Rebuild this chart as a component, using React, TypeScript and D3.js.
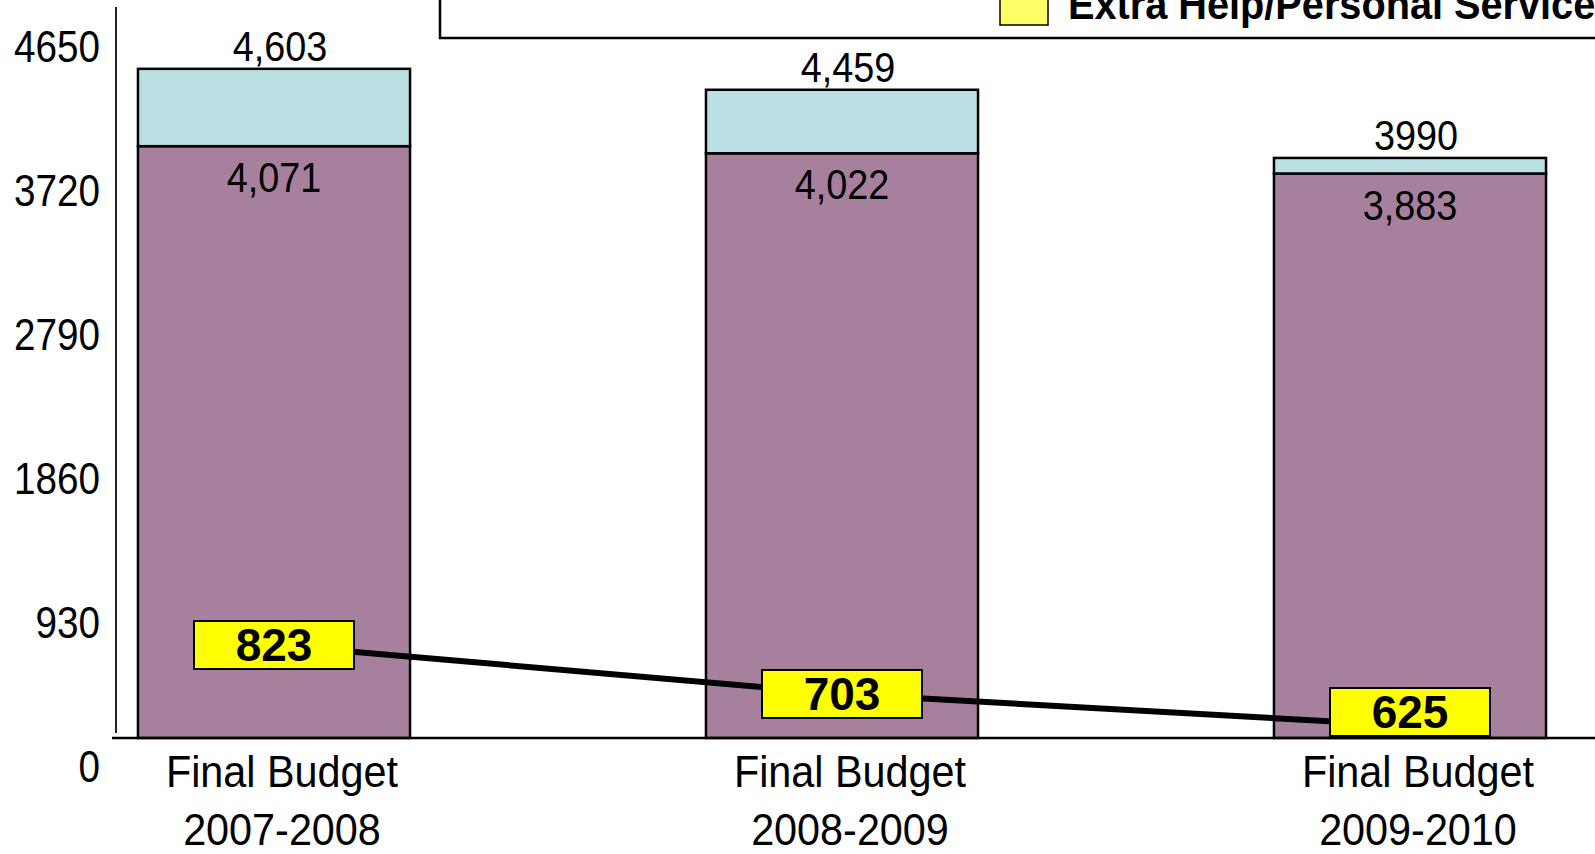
import React, { useEffect, useRef } from 'react'
import * as d3 from 'd3'

const categories = ['2007-2008', '2008-2009', '2009-2010']
const categoryPrefix = 'Final Budget'
const baseValues = [4071, 4022, 3883]
const totalValues = [4603, 4459, 3990]
const totalLabels = ['4,603', '4,459', '3990']
const extraHelpValues = [823, 703, 625]
const yTicks = [0, 930, 1860, 2790, 3720, 4650]
const legendLabel = 'Extra Help/Personal Service'

const W = 1595
const H = 854
// no narrow font installed, so regular sans gets squeezed horizontally
const SANS = '"Liberation Sans", Arial, sans-serif'
const SQUEEZE = 0.9

type Row = {
  cat: string
  base: number
  total: number
  totalLabel: string
  extra: number
}

export default function App() {
  const chartRef = useRef<SVGSVGElement>(null)

  useEffect(() => {
    const svg = d3.select(chartRef.current)
    svg.selectAll('*').remove()

    const x = d3.scalePoint<string>().domain(categories).range([274, 1410])
    const barW = x.step() * 0.479
    const y = d3.scaleLinear().domain([0, 4650]).range([738, 62])
    // tick labels sit on their own spacing in the original
    const yLabel = d3.scaleLinear().domain([0, 4650]).range([767, 47])
    // extra help line uses a hidden secondary axis
    const yLine = d3.scaleLinear().domain([600, 850]).range([736, 634])

    const rows: Row[] = categories.map((c, i) => ({
      cat: c,
      base: baseValues[i],
      total: totalValues[i],
      totalLabel: totalLabels[i],
      extra: extraHelpValues[i],
    }))

    // legend box (cut off at the top)
    svg
      .append('rect')
      .attr('x', 440)
      .attr('y', -20)
      .attr('width', 1200)
      .attr('height', 58)
      .attr('fill', '#fff')
      .attr('stroke', '#000')
      .attr('stroke-width', 2.5)
    svg
      .append('rect')
      .attr('x', 1000)
      .attr('y', -10)
      .attr('width', 48)
      .attr('height', 35)
      .attr('fill', '#ffff66')
      .attr('stroke', '#000')
      .attr('stroke-width', 1.5)
    svg
      .append('text')
      .attr('transform', `translate(1068,19) scale(0.945,1)`)
      .attr('font-family', SANS)
      .attr('font-weight', 'bold')
      .attr('font-size', 42)
      .text(legendLabel)

    // y axis line + labels
    svg
      .append('line')
      .attr('x1', 116)
      .attr('x2', 116)
      .attr('y1', 7)
      .attr('y2', 733)
      .attr('stroke', '#222')
      .attr('stroke-width', 2)

    svg
      .append('g')
      .attr('transform', 'translate(100,0)')
      .call(
        d3
          .axisLeft(yLabel)
          .tickValues(yTicks)
          .tickFormat(d3.format('d'))
          .tickSize(0)
          .tickPadding(0),
      )
      .call((g) => g.select('.domain').remove())
      .call((g) =>
        g
          .selectAll('.tick text')
          .attr('transform', 'scale(0.86,1)')
          .attr('font-family', SANS)
          .attr('font-size', 45)
          .attr('fill', '#000'),
      )

    const bars = svg.append('g')

    bars
      .selectAll('.base')
      .data(rows)
      .enter()
      .append('rect')
      .attr('x', (d) => x(d.cat)! - barW / 2)
      .attr('y', (d) => y(d.base))
      .attr('width', barW)
      .attr('height', (d) => y(0) - y(d.base))
      .attr('fill', '#a6809c')
      .attr('stroke', '#000')
      .attr('stroke-width', 2.5)

    bars
      .selectAll('.top')
      .data(rows)
      .enter()
      .append('rect')
      .attr('x', (d) => x(d.cat)! - barW / 2)
      .attr('y', (d) => y(d.total))
      .attr('width', barW)
      .attr('height', (d) => y(d.base) - y(d.total))
      .attr('fill', '#bae0e3')
      .attr('stroke', '#000')
      .attr('stroke-width', 2.5)

    // baseline
    svg
      .append('line')
      .attr('x1', 112)
      .attr('x2', W)
      .attr('y1', y(0))
      .attr('y2', y(0))
      .attr('stroke', '#000')
      .attr('stroke-width', 2.5)

    // value labels
    bars
      .selectAll('.tot-label')
      .data(rows)
      .enter()
      .append('text')
      .attr(
        'transform',
        (d) => `translate(${x(d.cat)! + 6},${y(d.total) - 8}) scale(${SQUEEZE},1)`,
      )
      .attr('text-anchor', 'middle')
      .attr('font-family', SANS)
      .attr('font-size', 42)
      .text((d) => d.totalLabel)

    bars
      .selectAll('.base-label')
      .data(rows)
      .enter()
      .append('text')
      .attr(
        'transform',
        (d) => `translate(${x(d.cat)!},${y(d.base) + 46}) scale(${SQUEEZE},1)`,
      )
      .attr('text-anchor', 'middle')
      .attr('font-family', SANS)
      .attr('font-size', 42)
      .text((d) => d3.format(',')(d.base))

    // category labels
    const cat = svg
      .selectAll('.cat')
      .data(rows)
      .enter()
      .append('text')
      .attr('transform', (d) => `translate(${x(d.cat)! + 8},0) scale(0.94,1)`)
      .attr('text-anchor', 'middle')
      .attr('font-family', SANS)
      .attr('font-size', 44)
    cat.append('tspan').attr('x', 0).attr('y', 787).text(categoryPrefix)
    cat
      .append('tspan')
      .attr('x', 0)
      .attr('y', 845)
      .text((d) => d.cat)

    // extra help line
    const line = d3
      .line<Row>()
      .x((d) => x(d.cat)!)
      .y((d) => yLine(d.extra))
    svg
      .append('path')
      .datum(rows)
      .attr('d', line)
      .attr('fill', 'none')
      .attr('stroke', '#000')
      .attr('stroke-width', 6)

    const boxW = 160
    const boxH = 48
    const boxY = (d: Row) => Math.min(yLine(d.extra), y(0) - boxH / 2 - 2)

    const boxes = svg.selectAll('.box').data(rows).enter().append('g')
    boxes
      .append('rect')
      .attr('x', (d) => x(d.cat)! - boxW / 2)
      .attr('y', (d) => boxY(d) - boxH / 2)
      .attr('width', boxW)
      .attr('height', boxH)
      .attr('fill', '#ffff00')
      .attr('stroke', '#000')
      .attr('stroke-width', 2)
    boxes
      .append('text')
      .attr('x', (d) => x(d.cat)!)
      .attr('y', (d) => boxY(d) + 16)
      .attr('text-anchor', 'middle')
      .attr('font-family', SANS)
      .attr('font-weight', 'bold')
      .attr('font-size', 46)
      .text((d) => d.extra)
  }, [])

  return (
    <svg
      ref={chartRef}
      width={W}
      height={H}
      style={{ position: 'absolute', left: 0, top: 0, background: '#fff' }}
    ></svg>
  )
}
